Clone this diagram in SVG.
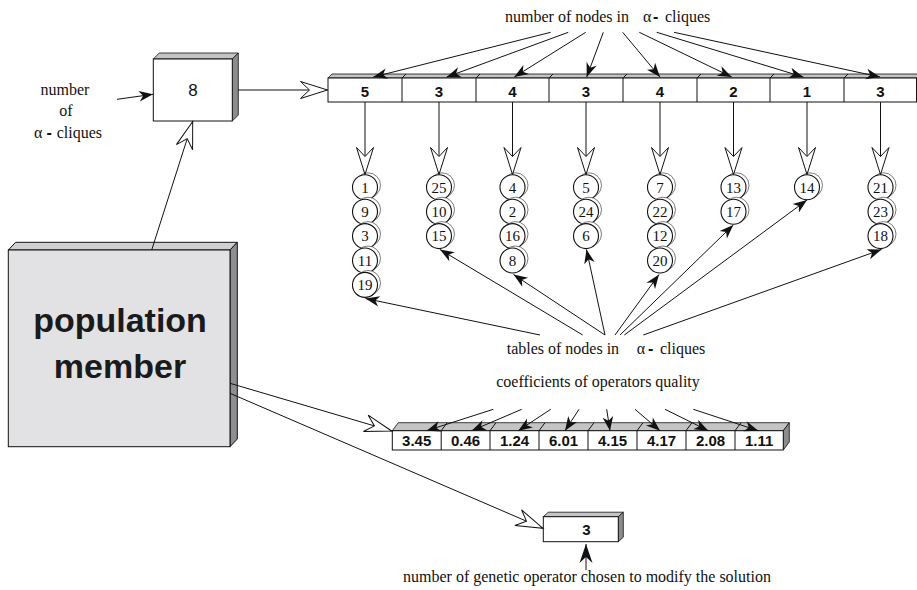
<svg xmlns="http://www.w3.org/2000/svg" width="917" height="590" viewBox="0 0 917 590">
<style>
.serif{font-family:"Liberation Serif","Times New Roman",serif;font-size:16px;fill:#111}
.num{font-family:"Liberation Serif","Times New Roman",serif;font-size:15px;fill:#111;text-anchor:middle}
.cell{font-family:"Liberation Sans",Arial,sans-serif;font-size:15px;font-weight:bold;fill:#111;text-anchor:middle}
.dash{font-family:"Liberation Sans",Arial,sans-serif;font-weight:bold}
.ln{stroke:#111;stroke-width:1;fill:none}
.fa{marker-end:url(#fa)}
.fb{marker-end:url(#fb)}
.oa{marker-end:url(#oa)}
.front{fill:#fff;stroke:#111;stroke-width:1}
.top{fill:#c4c4c4;stroke:#111;stroke-width:0.8}
.side{fill:#8c8c8c;stroke:#111;stroke-width:0.8}
.sh{fill:#fff;stroke:#444;stroke-width:0.7}
.cc{fill:#fff;stroke:#111;stroke-width:1.1}
</style>
<defs>
<marker id="fa" markerUnits="userSpaceOnUse" viewBox="-16 -7 17 14" refX="0" refY="0" markerWidth="17" markerHeight="14" orient="auto">
<path d="M0,0 L-14,-5.3 L-10,0 L-14,5.3 Z" fill="#111"/>
</marker>
<marker id="fb" markerUnits="userSpaceOnUse" viewBox="-21 -8 22 16" refX="0" refY="0" markerWidth="22" markerHeight="16" orient="auto">
<path d="M0,0 L-19,-6.5 L-13,0 L-19,6.5 Z" fill="#111"/>
</marker>
<marker id="oa" markerUnits="userSpaceOnUse" viewBox="-30 -11 32 22" refX="0" refY="0" markerWidth="32" markerHeight="22" orient="auto">
<path d="M0,0 L-27,-8.5 L-18,0 L-27,8.5 Z" fill="#fff" stroke="#111" stroke-width="1"/>
</marker>
</defs>

<!-- labels -->
<g id="label-left">
<text class="serif" x="65" y="95" text-anchor="middle">number</text>
<text class="serif" x="66" y="116" text-anchor="middle">of</text>
<text class="serif" x="34" y="138.3">α<tspan class="dash" x="46.5">-</tspan><tspan x="56.7">cliques</tspan></text>
</g>
<g id="label-nodes">
<text class="serif" x="505" y="22">number of nodes in<tspan x="643">α</tspan><tspan class="dash" x="653">-</tspan><tspan x="665">cliques</tspan></text>
</g>
<g id="label-tables">
<text class="serif" x="506.7" y="354">tables of nodes in<tspan x="636.7">α</tspan><tspan class="dash" x="648">-</tspan><tspan x="660">cliques</tspan></text>
</g>
<g id="label-coeff">
<text class="serif" x="598" y="387" text-anchor="middle">coefficients of operators quality</text>
</g>
<g id="label-operator">
<text class="serif" x="587" y="582" text-anchor="middle">number of genetic operator chosen to modify the solution</text>
</g>

<!-- box 8 -->
<g id="count-box">
<polygon class="top" points="153.3,59 159.3,53 238.3,53 232.3,59"/>
<polygon class="side" points="232.3,59 238.3,53 238.3,115 232.3,121"/>
<rect class="front" x="153.3" y="59" width="79" height="62"/>
<text x="193" y="96" text-anchor="middle" font-family="Liberation Sans, Arial, sans-serif" font-size="17" fill="#111">8</text>
</g>

<!-- population member -->
<g id="population-member">
<polygon points="8.3,250 15.6,242.3 237.3,242.3 230,250" fill="#cfcfd1" stroke="#111" stroke-width="1"/>
<polygon points="230,250 237.3,242.3 237.3,439 230,446.7" fill="#8f8f92" stroke="#111" stroke-width="1"/>
<rect x="8.3" y="250" width="221.7" height="196.7" fill="#e2e2e4" stroke="#111" stroke-width="1"/>
<text x="120" y="331.7" text-anchor="middle" font-family="Liberation Sans, Arial, sans-serif" font-size="34" font-weight="bold" fill="#1a1a1a">population</text>
<text x="120" y="378.3" text-anchor="middle" font-family="Liberation Sans, Arial, sans-serif" font-size="34" font-weight="bold" fill="#1a1a1a">member</text>
</g>

<!-- top array -->
<g id="nodes-count-array">
<polygon class="top" points="328,78 332,74 921,74 917,78"/>
<rect class="front" x="328" y="78" width="588.5" height="24"/>
<g class="ln">
<line x1="402" y1="78" x2="406" y2="74"/><line x1="476" y1="78" x2="480" y2="74"/>
<line x1="549" y1="78" x2="553" y2="74"/><line x1="623" y1="78" x2="627" y2="74"/>
<line x1="697" y1="78" x2="701" y2="74"/><line x1="770" y1="78" x2="774" y2="74"/>
<line x1="844" y1="78" x2="848" y2="74"/>
<line x1="402" y1="78" x2="402" y2="102"/><line x1="476" y1="78" x2="476" y2="102"/>
<line x1="549" y1="78" x2="549" y2="102"/><line x1="623" y1="78" x2="623" y2="102"/>
<line x1="697" y1="78" x2="697" y2="102"/><line x1="770" y1="78" x2="770" y2="102"/>
<line x1="844" y1="78" x2="844" y2="102"/>
</g>
<text class="cell" x="365" y="96.5">5</text>
<text class="cell" x="439" y="96.5">3</text>
<text class="cell" x="512.5" y="96.5">4</text>
<text class="cell" x="586" y="96.5">3</text>
<text class="cell" x="660" y="96.5">4</text>
<text class="cell" x="733.5" y="96.5">2</text>
<text class="cell" x="807" y="96.5">1</text>
<text class="cell" x="880.5" y="96.5">3</text>
</g>

<!-- tables of nodes -->
<g id="table-1">
<circle class="sh" cx="368" cy="185.3" r="12.5"/><circle class="cc" cx="365" cy="187.3" r="12.5"/><text class="num" x="365" y="192.5">1</text>
<circle class="sh" cx="368" cy="209.7" r="12.5"/><circle class="cc" cx="365" cy="211.7" r="12.5"/><text class="num" x="365" y="216.9">9</text>
<circle class="sh" cx="368" cy="234.1" r="12.5"/><circle class="cc" cx="365" cy="236.1" r="12.5"/><text class="num" x="365" y="241.3">3</text>
<circle class="sh" cx="368" cy="258.5" r="12.5"/><circle class="cc" cx="365" cy="260.5" r="12.5"/><text class="num" x="365" y="265.7">11</text>
<circle class="sh" cx="368" cy="282.9" r="12.5"/><circle class="cc" cx="365" cy="284.9" r="12.5"/><text class="num" x="365" y="290.1">19</text>
</g>
<g id="table-2">
<circle class="sh" cx="442" cy="185.3" r="12.5"/><circle class="cc" cx="439" cy="187.3" r="12.5"/><text class="num" x="439" y="192.5">25</text>
<circle class="sh" cx="442" cy="209.7" r="12.5"/><circle class="cc" cx="439" cy="211.7" r="12.5"/><text class="num" x="439" y="216.9">10</text>
<circle class="sh" cx="442" cy="234.1" r="12.5"/><circle class="cc" cx="439" cy="236.1" r="12.5"/><text class="num" x="439" y="241.3">15</text>
</g>
<g id="table-3">
<circle class="sh" cx="515.5" cy="185.3" r="12.5"/><circle class="cc" cx="512.5" cy="187.3" r="12.5"/><text class="num" x="512.5" y="192.5">4</text>
<circle class="sh" cx="515.5" cy="209.7" r="12.5"/><circle class="cc" cx="512.5" cy="211.7" r="12.5"/><text class="num" x="512.5" y="216.9">2</text>
<circle class="sh" cx="515.5" cy="234.1" r="12.5"/><circle class="cc" cx="512.5" cy="236.1" r="12.5"/><text class="num" x="512.5" y="241.3">16</text>
<circle class="sh" cx="515.5" cy="258.5" r="12.5"/><circle class="cc" cx="512.5" cy="260.5" r="12.5"/><text class="num" x="512.5" y="265.7">8</text>
</g>
<g id="table-4">
<circle class="sh" cx="589" cy="185.3" r="12.5"/><circle class="cc" cx="586" cy="187.3" r="12.5"/><text class="num" x="586" y="192.5">5</text>
<circle class="sh" cx="589" cy="209.7" r="12.5"/><circle class="cc" cx="586" cy="211.7" r="12.5"/><text class="num" x="586" y="216.9">24</text>
<circle class="sh" cx="589" cy="234.1" r="12.5"/><circle class="cc" cx="586" cy="236.1" r="12.5"/><text class="num" x="586" y="241.3">6</text>
</g>
<g id="table-5">
<circle class="sh" cx="663" cy="185.3" r="12.5"/><circle class="cc" cx="660" cy="187.3" r="12.5"/><text class="num" x="660" y="192.5">7</text>
<circle class="sh" cx="663" cy="209.7" r="12.5"/><circle class="cc" cx="660" cy="211.7" r="12.5"/><text class="num" x="660" y="216.9">22</text>
<circle class="sh" cx="663" cy="234.1" r="12.5"/><circle class="cc" cx="660" cy="236.1" r="12.5"/><text class="num" x="660" y="241.3">12</text>
<circle class="sh" cx="663" cy="258.5" r="12.5"/><circle class="cc" cx="660" cy="260.5" r="12.5"/><text class="num" x="660" y="265.7">20</text>
</g>
<g id="table-6">
<circle class="sh" cx="736.5" cy="185.3" r="12.5"/><circle class="cc" cx="733.5" cy="187.3" r="12.5"/><text class="num" x="733.5" y="192.5">13</text>
<circle class="sh" cx="736.5" cy="209.7" r="12.5"/><circle class="cc" cx="733.5" cy="211.7" r="12.5"/><text class="num" x="733.5" y="216.9">17</text>
</g>
<g id="table-7">
<circle class="sh" cx="810" cy="185.3" r="12.5"/><circle class="cc" cx="807" cy="187.3" r="12.5"/><text class="num" x="807" y="192.5">14</text>
</g>
<g id="table-8">
<circle class="sh" cx="883.5" cy="185.3" r="12.5"/><circle class="cc" cx="880.5" cy="187.3" r="12.5"/><text class="num" x="880.5" y="192.5">21</text>
<circle class="sh" cx="883.5" cy="209.7" r="12.5"/><circle class="cc" cx="880.5" cy="211.7" r="12.5"/><text class="num" x="880.5" y="216.9">23</text>
<circle class="sh" cx="883.5" cy="234.1" r="12.5"/><circle class="cc" cx="880.5" cy="236.1" r="12.5"/><text class="num" x="880.5" y="241.3">18</text>
</g>

<!-- coefficients array -->
<g id="coefficients-array">
<polygon class="top" points="392.3,430.7 398.3,422.7 789.3,422.7 783.3,430.7"/>
<polygon class="side" points="783.3,430.7 789.3,422.7 789.3,442 783.3,450"/>
<rect class="front" x="392.3" y="430.7" width="391" height="19.3"/>
<g class="ln">
<line x1="441.2" y1="430.7" x2="447.2" y2="422.7"/><line x1="490" y1="430.7" x2="496" y2="422.7"/>
<line x1="539" y1="430.7" x2="545" y2="422.7"/><line x1="588" y1="430.7" x2="594" y2="422.7"/>
<line x1="637" y1="430.7" x2="643" y2="422.7"/><line x1="686" y1="430.7" x2="692" y2="422.7"/>
<line x1="735" y1="430.7" x2="741" y2="422.7"/>
<line x1="441.2" y1="430.7" x2="441.2" y2="450"/><line x1="490" y1="430.7" x2="490" y2="450"/>
<line x1="539" y1="430.7" x2="539" y2="450"/><line x1="588" y1="430.7" x2="588" y2="450"/>
<line x1="637" y1="430.7" x2="637" y2="450"/><line x1="686" y1="430.7" x2="686" y2="450"/>
<line x1="735" y1="430.7" x2="735" y2="450"/>
</g>
<text class="cell" x="416.7" y="446">3.45</text>
<text class="cell" x="465.6" y="446">0.46</text>
<text class="cell" x="514.5" y="446">1.24</text>
<text class="cell" x="563.5" y="446">6.01</text>
<text class="cell" x="612.5" y="446">4.15</text>
<text class="cell" x="661.5" y="446">4.17</text>
<text class="cell" x="710.5" y="446">2.08</text>
<text class="cell" x="759.2" y="446">1.11</text>
</g>

<!-- chosen operator box -->
<g id="operator-box">
<polygon class="top" points="543.3,516.7 548.3,512.2 623.3,512.2 618.3,516.7"/>
<polygon class="side" points="618.3,516.7 623.3,512.2 623.3,537.2 618.3,541.7"/>
<rect class="front" x="543.3" y="516.7" width="75" height="25"/>
<text class="cell" x="586.5" y="535">3</text>
</g>

<!-- connectors -->
<g id="connectors">
<line class="ln fa" x1="117" y1="99.3" x2="153" y2="94.3"/>
<line class="ln oa" x1="238" y1="90" x2="327.5" y2="90"/>
<line class="ln oa" x1="151.7" y1="250" x2="192.7" y2="121.5"/>
<line class="ln oa" x1="230" y1="383.3" x2="391.7" y2="431"/>
<line class="ln oa" x1="230" y1="393.3" x2="543" y2="528.3"/>
<line class="ln fb" x1="586" y1="570" x2="586" y2="544"/>
<!-- number of nodes arrows -->
<line class="ln fa" x1="550.7" y1="32.3" x2="373.3" y2="77"/>
<line class="ln fa" x1="568.3" y1="32.3" x2="446.7" y2="77"/>
<line class="ln fa" x1="585.7" y1="32.3" x2="514.3" y2="77"/>
<line class="ln fa" x1="603.3" y1="32.3" x2="586.7" y2="77"/>
<line class="ln fa" x1="622.7" y1="32.3" x2="660" y2="77"/>
<line class="ln fa" x1="639.3" y1="32.3" x2="731.7" y2="77"/>
<line class="ln fa" x1="656.7" y1="32.3" x2="803.3" y2="77"/>
<line class="ln fa" x1="674" y1="32.3" x2="880" y2="77"/>
<!-- array to tables -->
<line class="ln oa" x1="365" y1="102" x2="365" y2="174.5"/>
<line class="ln oa" x1="439" y1="102" x2="439" y2="174.5"/>
<line class="ln oa" x1="512.5" y1="102" x2="512.5" y2="174.5"/>
<line class="ln oa" x1="586" y1="102" x2="586" y2="174.5"/>
<line class="ln oa" x1="660" y1="102" x2="660" y2="174.5"/>
<line class="ln oa" x1="733.5" y1="102" x2="733.5" y2="174.5"/>
<line class="ln oa" x1="807" y1="102" x2="807" y2="174.5"/>
<line class="ln oa" x1="880.5" y1="102" x2="880.5" y2="174.5"/>
<!-- tables label arrows -->
<line class="ln fa" x1="540" y1="335" x2="365.5" y2="298.5"/>
<line class="ln fa" x1="582.7" y1="335" x2="440" y2="249.5"/>
<line class="ln fa" x1="605" y1="335" x2="513.5" y2="274.5"/>
<line class="ln fa" x1="605" y1="335" x2="586.5" y2="249.5"/>
<line class="ln fa" x1="615" y1="335" x2="659" y2="274.5"/>
<line class="ln fa" x1="620" y1="335" x2="733.3" y2="225"/>
<line class="ln fa" x1="624.3" y1="335" x2="807" y2="200"/>
<line class="ln fa" x1="643.3" y1="335" x2="881.5" y2="249.5"/>
<!-- coefficient arrows -->
<line class="ln fa" x1="493.3" y1="409.3" x2="426.7" y2="430.7"/>
<line class="ln fa" x1="521.7" y1="409.3" x2="471.7" y2="430.7"/>
<line class="ln fa" x1="550.7" y1="409.3" x2="518.3" y2="430.7"/>
<line class="ln fa" x1="579" y1="409.3" x2="565" y2="430.7"/>
<line class="ln fa" x1="606.7" y1="409.3" x2="610" y2="430.7"/>
<line class="ln fa" x1="635" y1="409.3" x2="660" y2="430.7"/>
<line class="ln fa" x1="665" y1="409.3" x2="708.3" y2="430.7"/>
<line class="ln fa" x1="693.3" y1="409.3" x2="758.3" y2="430.7"/>
</g>
</svg>
